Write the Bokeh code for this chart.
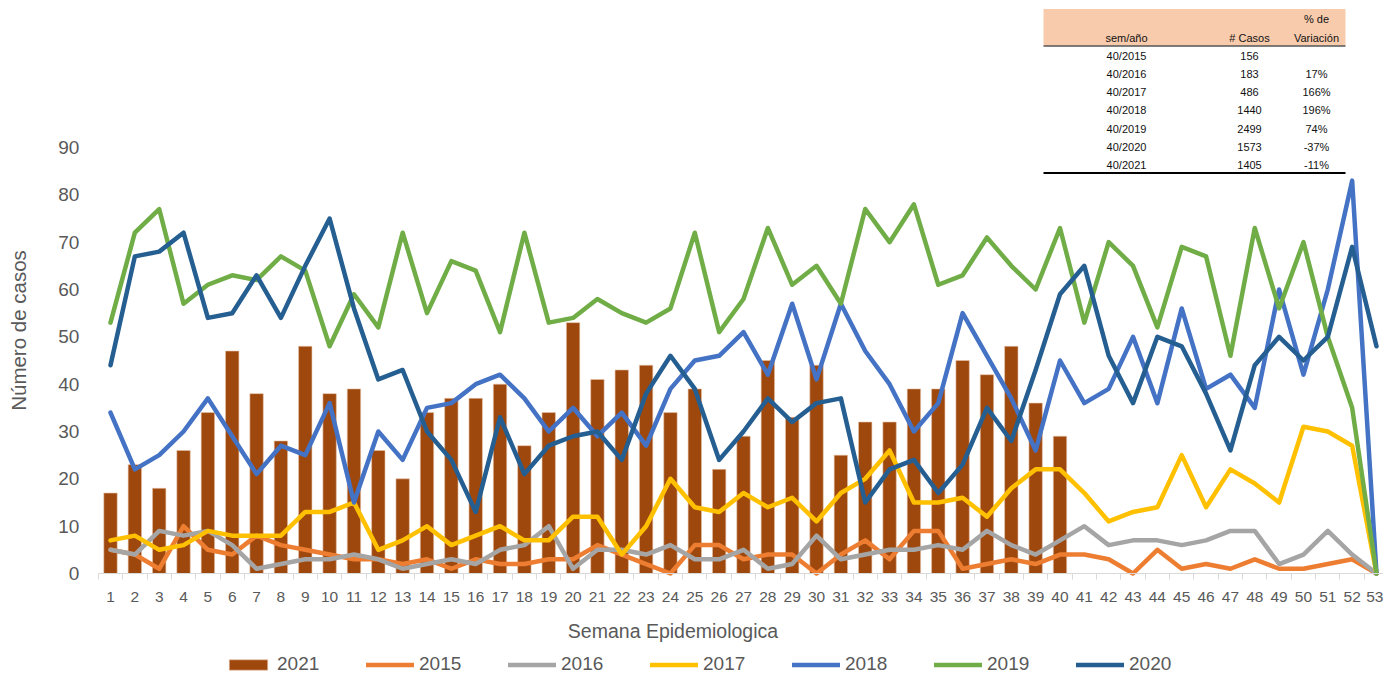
from math import pi
from bokeh.plotting import figure
from bokeh.models import (FixedTicker, Range1d, Legend, LegendItem, Label)
from bokeh.embed import file_html
from bokeh.resources import INLINE
from bokeh.core.properties import value

# ---------------- data ----------------
weeks = list(range(1, 54))
weeks_2021 = list(range(1, 41))
cases_2021 = [17, 23, 18, 26, 34, 47, 38, 28, 48, 38, 39, 26, 20, 34, 37, 37, 40, 27, 34, 53,
              41, 43, 44, 34, 39, 22, 29, 45, 33, 44, 25, 32, 32, 39, 39, 45, 42, 48, 36, 29]
cases_2015 = [5, 4, 1, 10, 5, 4, 8, 6, 5, 4, 3, 3, 2, 3, 1, 3, 2, 2, 3, 3,
              6, 4, 2, 0, 6, 6, 3, 4, 4, 0, 4, 7, 3, 9, 9, 1, 2, 3, 2, 4,
              4, 3, 0, 5, 1, 2, 1, 3, 1, 1, 2, 3, 0]
cases_2016 = [5, 4, 9, 8, 9, 6, 1, 2, 3, 3, 4, 3, 1, 2, 3, 2, 5, 6, 10, 1,
              5, 5, 4, 6, 3, 3, 5, 1, 2, 8, 3, 4, 5, 5, 6, 5, 9, 6, 4, 7,
              10, 6, 7, 7, 6, 7, 9, 9, 2, 4, 9, 4, 0]
cases_2017 = [7, 8, 5, 6, 9, 8, 8, 8, 13, 13, 15, 5, 7, 10, 6, 8, 10, 7, 7, 12,
              12, 4, 10, 20, 14, 13, 17, 14, 16, 11, 17, 20, 26, 15, 15, 16, 12, 18, 22, 22,
              17, 11, 13, 14, 25, 14, 22, 19, 15, 31, 30, 27, 0]
cases_2018 = [34, 22, 25, 30, 37, 29, 21, 27, 25, 36, 15, 30, 24, 35, 36, 40, 42, 37, 30, 35,
              29, 34, 27, 39, 45, 46, 51, 42, 57, 41, 57, 47, 40, 30, 36, 55, 46, 37, 26, 45,
              36, 39, 50, 36, 56, 39, 42, 35, 60, 42, 60, 83, 0]
cases_2019 = [53, 72, 77, 57, 61, 63, 62, 67, 64, 48, 59, 52, 72, 55, 66, 64, 51, 72, 53, 54,
              58, 55, 53, 56, 72, 51, 58, 73, 61, 65, 57, 77, 70, 78, 61, 63, 71, 65, 60, 73,
              53, 70, 65, 52, 69, 67, 46, 73, 56, 70, 50, 35, 0]
cases_2020 = [44, 67, 68, 72, 54, 55, 63, 54, 65, 75, 56, 41, 43, 30, 24, 13, 33, 21, 27, 29,
              30, 24, 38, 46, 39, 24, 30, 37, 32, 36, 37, 15, 22, 24, 17, 23, 35, 28, 43, 59,
              65, 46, 36, 50, 48, 38, 26, 44, 50, 45, 50, 69, 48]

line_years = ["2015", "2016", "2017", "2018", "2019", "2020"]
line_values = [cases_2015, cases_2016, cases_2017, cases_2018, cases_2019, cases_2020]
line_colors = ["#ED7D31", "#A5A5A5", "#FFC000", "#4472C4", "#70AD47", "#255E91"]
bar_color = "#9E480E"

y_ticks = [0, 10, 20, 30, 40, 50, 60, 70, 80, 90]

table_header = ["sem/año", "# Casos", "Variación"]
table_sem = ["40/2015", "40/2016", "40/2017", "40/2018", "40/2019", "40/2020", "40/2021"]
table_cases = ["156", "183", "486", "1440", "2499", "1573", "1405"]
table_var = ["", "17%", "166%", "196%", "74%", "-37%", "-11%"]

# ---------------- layout helpers (page pixel -> data) ----------------
X1_PX, XSTEP = 110.0, 24.346
Y0_PX, YSTEP = 573.0, 4.7333


def dx(px):
    return 1 + (px - X1_PX) / XSTEP


def dy(py):
    return (Y0_PX - py) / YSTEP


TXT = "#595959"
FONT = "Liberation Sans"
W, H = 1383, 677

p = figure(width=W, height=H, output_backend="svg", toolbar_location=None,
           x_range=Range1d(dx(0), dx(W)), y_range=Range1d(dy(H), dy(0)),
           min_border=0)
p.outline_line_color = None
p.grid.visible = False

# x axis, drawn at y = 0
p.xaxis.fixed_location = 0
p.xaxis.bounds = (0.5, dx(W))
p.xaxis.ticker = FixedTicker(ticks=weeks, minor_ticks=[w - 0.5 for w in weeks] + [53.5])
p.xaxis.major_tick_line_color = None
p.xaxis.major_tick_out = 0
p.xaxis.major_tick_in = 0
p.xaxis.minor_tick_out = 6
p.xaxis.minor_tick_in = 0
p.xaxis.minor_tick_line_color = "#D9D9D9"
p.xaxis.axis_line_color = "#D9D9D9"
p.xaxis.major_label_text_font_size = "15.5px"
p.xaxis.major_label_text_color = TXT
p.xaxis.major_label_text_font = FONT
p.xaxis.major_label_standoff = 12

# y axis, drawn at the left edge of the plotting area
p.yaxis.fixed_location = 0.5
p.yaxis.ticker = FixedTicker(ticks=y_ticks)
p.yaxis.axis_line_color = None
p.yaxis.major_tick_line_color = None
p.yaxis.minor_tick_line_color = None
p.yaxis.major_tick_out = 0
p.yaxis.major_tick_in = 0
p.yaxis.major_label_text_font_size = "19px"
p.yaxis.major_label_text_color = TXT
p.yaxis.major_label_text_font = FONT
p.yaxis.major_label_standoff = 19

# bars
bars = p.vbar(x=weeks_2021, top=cases_2021, width=0.55, fill_color=bar_color,
              line_color="#E8C3A8", line_width=0.6)

items = [LegendItem(label="2021", renderers=[bars])]
for yr, vals, col in zip(line_years, line_values, line_colors):
    r = p.line(weeks, vals, line_width=4.5, line_color=col, line_join="round", line_cap="round")
    items.append(LegendItem(label=yr, renderers=[r]))

legend = Legend(items=items, orientation="horizontal", location=(224, H - 675),
                glyph_width=48, glyph_height=13, label_standoff=5, label_width=43, spacing=46,
                padding=0, margin=0, border_line_color=None, background_fill_alpha=0,
                label_text_font_size="19px", label_text_color=TXT, label_text_font=FONT)
p.add_layout(legend, "center")

# axis titles
p.add_layout(Label(x=dx(672.5), y=dy(630.5), text="Semana Epidemiologica",
                   text_align="center", text_baseline="middle", text_font_size="19.5px",
                   text_color=TXT, text_font=FONT))
p.add_layout(Label(x=dx(17.5), y=dy(330), text="Número de casos", angle=pi / 2,
                   text_align="center", text_baseline="middle", text_font_size="20.5px",
                   text_color=TXT, text_font=FONT))

# ---------------- table (top right) ----------------
TFONT = value(FONT)
TSIZE = "11px"
p.quad(left=[dx(1043)], right=[dx(1345)], top=[dy(8.5)], bottom=[dy(45)],
       fill_color="#F8CBAD", line_color=None)
p.segment(x0=[dx(1043)], x1=[dx(1345)], y0=[dy(45.5)], y1=[dy(45.5)],
          line_color="#000000", line_width=1)
p.segment(x0=[dx(1043)], x1=[dx(1345)], y0=[dy(172.5)], y1=[dy(172.5)],
          line_color="#000000", line_width=2)

col_px = [1126, 1249, 1316]
p.text(x=[dx(c) for c in col_px], y=[dy(37)] * 3, text=table_header,
       text_font=TFONT, text_font_size=TSIZE, text_color="#111111",
       text_align="center", text_baseline="middle")
p.text(x=[dx(1316)], y=[dy(18.5)], text=["% de"],
       text_font=TFONT, text_font_size=TSIZE, text_color="#111111",
       text_align="center", text_baseline="middle")
row_y = [dy(55 + i * 18.33) for i in range(len(table_sem))]
for c, col in zip(col_px, [table_sem, table_cases, table_var]):
    p.text(x=[dx(c)] * len(col), y=row_y, text=col,
           text_font=TFONT, text_font_size=TSIZE, text_color="#111111",
           text_align="center", text_baseline="middle")

open("out.html", "w").write(file_html(p, INLINE))
